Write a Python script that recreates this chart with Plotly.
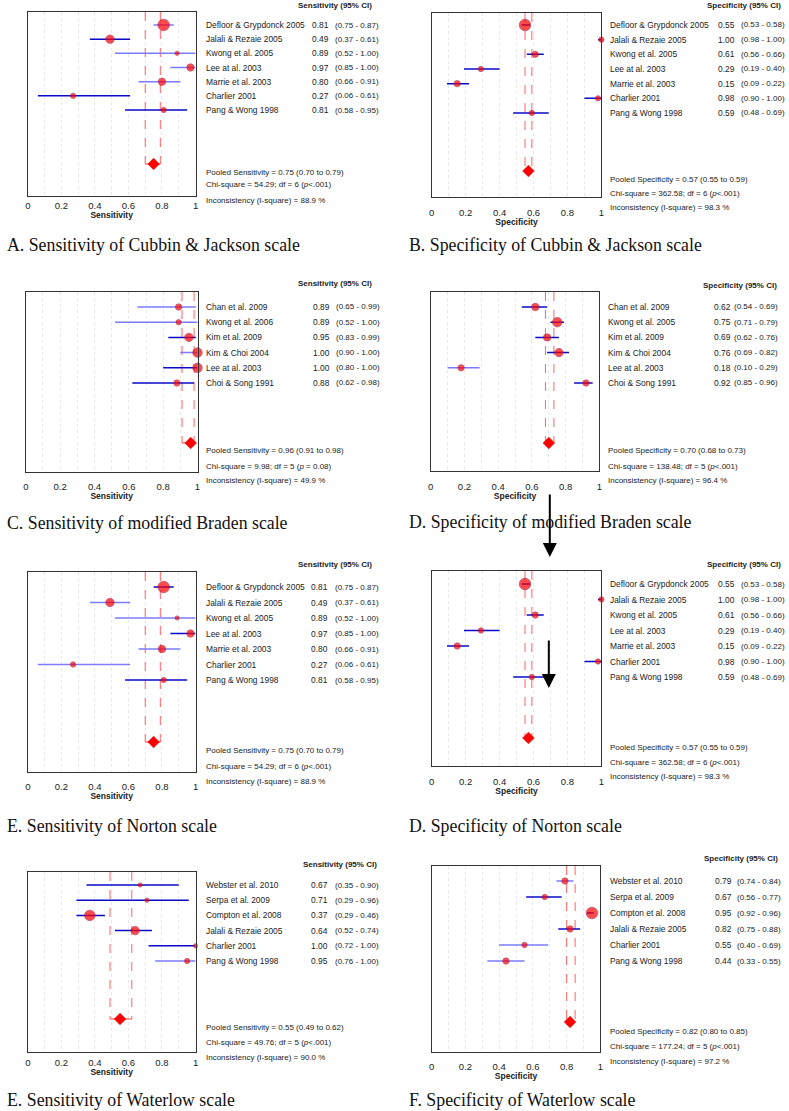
import plotly.graph_objects as go

OFF = 0
FW, FH = 789, 1111

# ------------------------------------------------------------------ data
# Cubbin & Jackson
cj_studies = ["Defloor & Grypdonck 2005", "Jalali & Rezaie 2005", "Kwong et al. 2005",
              "Lee at al. 2003", "Marrie et al. 2003", "Charlier 2001", "Pang & Wong 1998"]
cj_sens = [0.81, 0.49, 0.89, 0.97, 0.80, 0.27, 0.81]
cj_sens_lo = [0.75, 0.37, 0.52, 0.85, 0.66, 0.06, 0.58]
cj_sens_hi = [0.87, 0.61, 1.00, 1.00, 0.91, 0.61, 0.95]
cj_sens_weight = [11, 8, 4, 7, 7, 5, 5]
cj_sens_pooled = [0.75, 0.70, 0.79]
cj_sens_chi = [54.29, 6, "<.001", 88.9]

cj_spec = [0.55, 1.00, 0.61, 0.29, 0.15, 0.98, 0.59]
cj_spec_lo = [0.53, 0.98, 0.56, 0.19, 0.09, 0.90, 0.48]
cj_spec_hi = [0.58, 1.00, 0.66, 0.40, 0.22, 1.00, 0.69]
cj_spec_weight = [11, 5, 6, 5, 6, 5, 5]
cj_spec_pooled = [0.57, 0.55, 0.59]
cj_spec_chi = [362.58, 6, "<.001", 98.3]

# modified Braden
br_studies = ["Chan et al. 2009", "Kwong et al. 2006", "Kim et al. 2009",
              "Kim & Choi 2004", "Lee at al. 2003", "Choi & Song 1991"]
br_sens = [0.89, 0.89, 0.95, 1.00, 1.00, 0.88]
br_sens_lo = [0.65, 0.52, 0.83, 0.90, 0.80, 0.62]
br_sens_hi = [0.99, 1.00, 0.99, 1.00, 1.00, 0.98]
br_sens_weight = [6, 5, 8, 9, 9, 6]
br_sens_pooled = [0.96, 0.91, 0.98]
br_sens_chi = [9.98, 5, " = 0.08", 49.9]

br_spec_studies = ["Chan et al. 2009", "Kwong et al. 2005", "Kim et al. 2009",
                   "Kim & Choi 2004", "Lee at al. 2003", "Choi & Song 1991"]
br_spec = [0.62, 0.75, 0.69, 0.76, 0.18, 0.92]
br_spec_lo = [0.54, 0.71, 0.62, 0.69, 0.10, 0.85]
br_spec_hi = [0.69, 0.79, 0.76, 0.82, 0.29, 0.96]
br_spec_weight = [7, 9, 7, 8, 6, 6]
br_spec_pooled = [0.70, 0.68, 0.73]
br_spec_chi = [138.48, 5, "<.001", 96.4]

# Norton (same studies / values as Cubbin & Jackson in the source figure)
no_studies = list(cj_studies)
no_sens = [0.81, 0.49, 0.89, 0.97, 0.80, 0.27, 0.81]
no_sens_lo = [0.75, 0.37, 0.52, 0.85, 0.66, 0.06, 0.58]
no_sens_hi = [0.87, 0.61, 1.00, 1.00, 0.91, 0.61, 0.95]
no_sens_weight = [11, 8, 4, 7, 7, 5, 5]
no_sens_pooled = [0.75, 0.70, 0.79]
no_sens_chi = [54.29, 6, "<.001", 88.9]

no_spec = [0.55, 1.00, 0.61, 0.29, 0.15, 0.98, 0.59]
no_spec_lo = [0.53, 0.98, 0.56, 0.19, 0.09, 0.90, 0.48]
no_spec_hi = [0.58, 1.00, 0.66, 0.40, 0.22, 1.00, 0.69]
no_spec_weight = [11, 5, 6, 5, 6, 5, 5]
no_spec_pooled = [0.57, 0.55, 0.59]
no_spec_chi = [362.58, 6, "<.001", 98.3]

# Waterlow
wa_studies = ["Webster et al. 2010", "Serpa et al. 2009", "Compton et al. 2008",
              "Jalali & Rezaie 2005", "Charlier 2001", "Pang & Wong 1998"]
wa_sens = [0.67, 0.71, 0.37, 0.64, 1.00, 0.95]
wa_sens_lo = [0.35, 0.29, 0.29, 0.52, 0.72, 0.76]
wa_sens_hi = [0.90, 0.96, 0.46, 0.74, 1.00, 1.00]
wa_sens_weight = [4, 4, 10, 8, 4, 5]
wa_sens_pooled = [0.55, 0.49, 0.62]
wa_sens_chi = [49.76, 5, "<.001", 90.0]

wa_spec = [0.79, 0.67, 0.95, 0.82, 0.55, 0.44]
wa_spec_lo = [0.74, 0.56, 0.92, 0.75, 0.40, 0.33]
wa_spec_hi = [0.84, 0.77, 0.96, 0.88, 0.69, 0.55]
wa_spec_weight = [6, 5, 11, 6, 5, 6]
wa_spec_pooled = [0.82, 0.80, 0.85]
wa_spec_chi = [177.24, 5, "<.001", 97.2]

captions = ["A. Sensitivity of Cubbin & Jackson scale", "B. Specificity of Cubbin & Jackson scale",
            "C. Sensitivity of modified Braden scale", "D. Specificity of modified Braden scale",
            "E. Sensitivity of Norton scale", "D. Specificity of Norton scale",
            "E. Sensitivity of Waterlow scale", "F. Specificity of Waterlow scale"]
tick_vals = [0, 0.2, 0.4, 0.6, 0.8, 1]
tick_text = ["0", "0.2", "0.4", "0.6", "0.8", "1"]

# ------------------------------------------------------------------ styles / layout
LIGHT = "#7b7bff"
DARK = "#0a0ac8"
shades = [
    "LDLLLDD", "DDDDDDD", "LLDLDD", "DDDDLD",
    "DLLDLLD", "DDDDDDD", "DDDDDL", "LDDDLL",
]
# geometry in reference pixels
geo = [
    dict(box=(25, 194, 12, 196), rows=(25, 110), pool=164, lab=203, val=309, ci=333, hdr=(374, 5), stats=(172, 185, 200), cap=(2, 245), tg=0),
    dict(box=(432, 603, 13, 197), rows=(25, 113), pool=171, lab=610, val=718, ci=742, hdr=(786, 6), stats=(179, 193, 207), cap=(407, 245), tg=6),
    dict(box=(23, 196, 292, 472), rows=(307, 383), pool=443, lab=203, val=310, ci=334, hdr=(374, 284), stats=(450, 466, 481), cap=(2, 523), tg=5),
    dict(box=(431, 601, 292, 471), rows=(307, 383), pool=443, lab=608, val=714, ci=735, hdr=(782, 285), stats=(450, 466, 481), cap=(407, 522), tg=6),
    dict(box=(25, 194, 572, 772), rows=(587, 680), pool=742, lab=203, val=308, ci=333, hdr=(374, 564), stats=(750, 766, 781), cap=(2, 826), tg=5),
    dict(box=(432, 603, 571, 766), rows=(584, 677), pool=738, lab=610, val=718, ci=742, hdr=(786, 564), stats=(747, 762, 776), cap=(407, 826), tg=6),
    dict(box=(25, 194, 872, 1052), rows=(885, 961), pool=1019, lab=203, val=308, ci=333, hdr=(379, 864), stats=(1027, 1042, 1057), cap=(2, 1100), tg=1),
    dict(box=(432, 602, 866, 1052), rows=(881, 961), pool=1022, lab=610, val=715, ci=738, hdr=(783, 858), stats=(1031, 1046, 1061), cap=(407, 1100), tg=5),
]

panels = [
    ("Sensitivity", cj_studies, cj_sens, cj_sens_lo, cj_sens_hi, cj_sens_weight, cj_sens_pooled, cj_sens_chi),
    ("Specificity", cj_studies, cj_spec, cj_spec_lo, cj_spec_hi, cj_spec_weight, cj_spec_pooled, cj_spec_chi),
    ("Sensitivity", br_studies, br_sens, br_sens_lo, br_sens_hi, br_sens_weight, br_sens_pooled, br_sens_chi),
    ("Specificity", br_spec_studies, br_spec, br_spec_lo, br_spec_hi, br_spec_weight, br_spec_pooled, br_spec_chi),
    ("Sensitivity", no_studies, no_sens, no_sens_lo, no_sens_hi, no_sens_weight, no_sens_pooled, no_sens_chi),
    ("Specificity", no_studies, no_spec, no_spec_lo, no_spec_hi, no_spec_weight, no_spec_pooled, no_spec_chi),
    ("Sensitivity", wa_studies, wa_sens, wa_sens_lo, wa_sens_hi, wa_sens_weight, wa_sens_pooled, wa_sens_chi),
    ("Specificity", wa_studies, wa_spec, wa_spec_lo, wa_spec_hi, wa_spec_weight, wa_spec_pooled, wa_spec_chi),
]

SANS = "Liberation Sans, Arial, sans-serif"
SERIF = "Liberation Serif, Times New Roman, serif"
RED = "#ff0000"
PRED = "#ff3c3c"


def px(x):
    return (x - OFF) / FW


def py(y):
    return 1 - (y - OFF) / FH


fig = go.Figure()
annotations = []
layout = {}

for k, (kind, studies, est, lo, hi, wgt, pooled, chi) in enumerate(panels, start=1):
    g = geo[k - 1]
    x0, x1, y0, y1 = g["box"]
    r0, r1 = g["rows"]
    n = len(studies)
    s = (r1 - r0) / (n - 1)
    idx = lambda p: (p - r0) / s
    top, bot, pidx = idx(y0), idx(y1), idx(g["pool"])
    xa = "x" if k == 1 else f"x{k}"
    ya = "y" if k == 1 else f"y{k}"
    xname = "xaxis" if k == 1 else f"xaxis{k}"
    yname = "yaxis" if k == 1 else f"yaxis{k}"
    rows = list(range(n))

    # pooled CI bracket: dashed verticals + bottom bar
    for bound in (pooled[1], pooled[2]):
        fig.add_trace(go.Scatter(x=[bound, bound], y=[top, pidx], mode="lines",
                                 line=dict(color=PRED, width=0.8, dash="dash"),
                                 xaxis=xa, yaxis=ya, hoverinfo="skip", showlegend=False))
    fig.add_trace(go.Scatter(x=[pooled[1], pooled[2]], y=[pidx, pidx], mode="lines",
                             line=dict(color=PRED, width=1.2),
                             xaxis=xa, yaxis=ya, hoverinfo="skip", showlegend=False))
    # CI lines
    for shade, col in (("L", LIGHT), ("D", DARK)):
        xs, ys = [], []
        for i in rows:
            if shades[k - 1][i] == shade:
                xs += [lo[i], hi[i], None]
                ys += [i, i, None]
        if xs:
            fig.add_trace(go.Scatter(x=xs, y=ys, mode="lines", line=dict(color=col, width=1.5),
                                     xaxis=xa, yaxis=ya, hoverinfo="skip", showlegend=False))
    # study estimates
    fig.add_trace(go.Scatter(x=est, y=rows, mode="markers", cliponaxis=False,
                             marker=dict(color=RED, size=[w * 1.05 for w in wgt],
                                         line=dict(color="#a0103a", width=0.8)),
                             xaxis=xa, yaxis=ya, showlegend=False))
    # pooled diamond
    fig.add_trace(go.Scatter(x=[pooled[0]], y=[pidx], mode="markers", cliponaxis=False,
                             marker=dict(color=RED, symbol="diamond", size=9,
                                         line=dict(color="#cc0000", width=0.5)),
                             xaxis=xa, yaxis=ya, showlegend=False))

    layout[xname] = dict(domain=[px(x0), px(x1)], range=[0, 1], anchor=ya,
                         tickvals=tick_vals, ticktext=tick_text, ticks="",
                         ticklabelstandoff=g["tg"],
                         tickfont=dict(family=SANS, size=9.5, color="#222"),
                         showgrid=True, gridcolor="#e8e8e8", griddash="dot", gridwidth=1,
                         minor=dict(dtick=0.1, tick0=0, showgrid=True, gridcolor="#e8e8e8",
                                    griddash="dot", gridwidth=1),
                         showline=True, mirror=True, linecolor="#333", linewidth=1.2,
                         zeroline=False, fixedrange=True,
                         title=dict(text=f"<b>{kind}</b>", standoff=2,
                                    font=dict(family=SANS, size=8.5, color="#222")))
    layout[yname] = dict(domain=[py(y1), py(y0)], range=[bot, top], anchor=xa,
                         showticklabels=False, ticks="", showgrid=False, zeroline=False,
                         showline=True, mirror=True, linecolor="#333", linewidth=1.2,
                         fixedrange=True)

    tf = dict(family=SANS, size=8.4, color="#222")
    sf = dict(family=SANS, size=8.0, color="#222")
    for i in rows:
        annotations.append(dict(x=px(g["lab"]), y=i, xref="paper", yref=ya, text=studies[i],
                                showarrow=False, xanchor="left", yanchor="middle", font=tf))
        annotations.append(dict(x=px(g["val"]), y=i, xref="paper", yref=ya, text=f"{est[i]:.2f}",
                                showarrow=False, xanchor="left", yanchor="middle", font=tf))
        annotations.append(dict(x=px(g["ci"]), y=i, xref="paper", yref=ya,
                                text=f"({lo[i]:.2f} - {hi[i]:.2f})",
                                showarrow=False, xanchor="left", yanchor="middle", font=sf))
    annotations.append(dict(x=px(g["hdr"][0]), y=py(g["hdr"][1]), xref="paper", yref="paper",
                            text=f"<b>{kind} (95% CI)</b>", showarrow=False,
                            xanchor="right", yanchor="middle",
                            font=dict(family=SANS, size=8.0, color="#222")))
    pword = chi[2]
    if pword.startswith("<"):
        ptxt = f"(<i>p</i>&lt;{pword[1:]})"
    else:
        ptxt = f"(<i>p</i>{pword})"
    stats = [f"Pooled {kind} = {pooled[0]:.2f} ({pooled[1]:.2f} to {pooled[2]:.2f})",
             f"Chi-square = {chi[0]:.2f}; df = {chi[1]} {ptxt}",
             f"Inconsistency (I-square) = {chi[3]:.1f} %"]
    for line, yy in zip(stats, g["stats"]):
        annotations.append(dict(x=px(g["lab"]), y=py(yy), xref="paper", yref="paper", text=line,
                                showarrow=False, xanchor="left", yanchor="middle", font=sf))
    annotations.append(dict(x=px(g["cap"][0]), y=py(g["cap"][1]), xref="paper", yref="paper",
                            text=captions[k - 1], showarrow=False, xanchor="left", yanchor="middle",
                            font=dict(family=SERIF, size=17.8, color="#111")))

# arrows
for (xa_, ya0, ya1) in [(551, 493, 557), (550, 639, 688)]:
    annotations.append(dict(x=px(xa_), y=py(ya1), ax=0, ay=-(ya1 - ya0), xref="paper", yref="paper",
                            axref="pixel", ayref="pixel", text="", showarrow=True,
                            arrowhead=2, arrowsize=1.4, arrowwidth=2, arrowcolor="#000"))

fig.update_layout(width=FW, height=FH, autosize=False, margin=dict(l=0, r=0, t=0, b=0),
                  paper_bgcolor="white", plot_bgcolor="white", showlegend=False,
                  annotations=annotations, **layout)
fig.write_html("out.html", config={"displayModeBar": False},
               post_script="document.body.style.margin='0px';")
